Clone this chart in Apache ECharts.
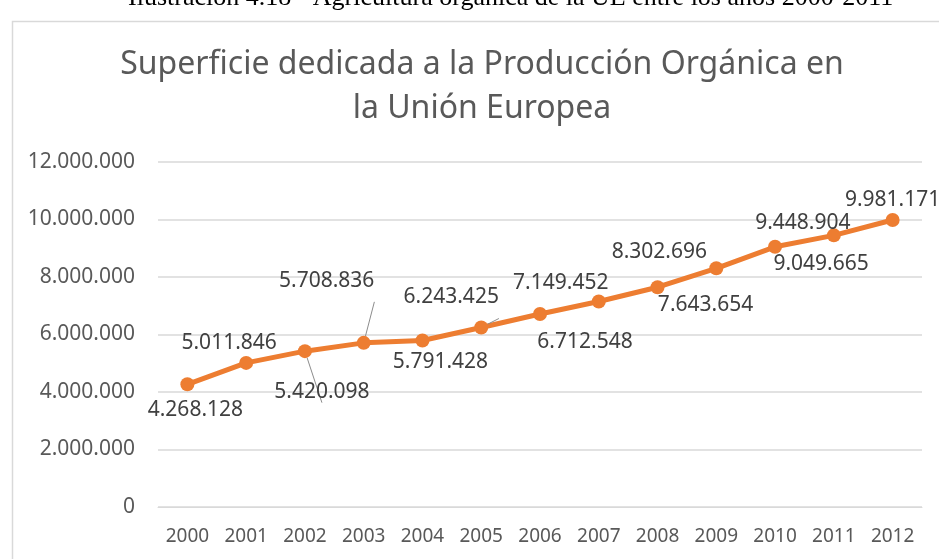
<!DOCTYPE html>
<html lang="es">
<head>
    <meta charset="UTF-8">
    <title>Superficie Producción Orgánica UE</title>
    <script src="https://cdn.jsdelivr.net/npm/echarts@6/dist/echarts.min.js"></script>
    <style>
        *{ margin: 0; padding: 0; }
        body{ width: 939px; height: 559px; overflow: hidden; background: #fff; }
        .container{ width: 939px; height: 559px; }
    </style>
</head>
<body>
<div class="container"></div>
<script>
    // datos
    let years = ['2000','2001','2002','2003','2004','2005','2006','2007','2008','2009','2010','2011','2012'];
    let hectareas = [4268128, 5011846, 5420098, 5708836, 5791428, 6243425, 6712548, 7149452, 7643654, 8302696, 9049665, 9448904, 9981171];
    let yTicks = [0, 2000000, 4000000, 6000000, 8000000, 10000000, 12000000];

    // posición de cada etiqueta respecto al punto
    let labelOffsets = [[8,26],[-17,-20],[17,41],[-37,-62],[18,22],[-30,-30],[45,28],[-38,-18],[48,18],[-57,-16],[46,17],[-31,-12],[0,-20]];
    let withLeader = [2, 3, 5];

    let fmt = v => String(v).replace(/\B(?=(\d{3})+(?!\d))/g, '.');

    let container = document.querySelector('.container');
    let mychart = echarts.init(container);

    let font = '"Noto Sans", sans-serif';

    let seriesData = hectareas.map((v, i) => ({
        value: v,
        label: { offset: labelOffsets[i] },
        labelLine: { show: withLeader.includes(i) }
    }));

    let options = {
        backgroundColor: '#fff',
        graphic: [
            {
                type: 'rect',
                left: 10, top: 19,
                shape: { width: 940, height: 560 },
                style: { fill: 'none', stroke: '#d9d9d9', lineWidth: 1.5 },
                z: -1
            },
            {
                type: 'text',
                left: 128, top: -15,
                style: {
                    text: 'Ilustración 4.18 - Agricultura orgánica de la UE entre los años 2000-2011',
                    font: '26px "Liberation Serif", serif',
                    fill: '#000'
                }
            }
        ],
        title: {
            text: 'Superficie dedicada a la Producción Orgánica en\nla Unión Europea',
            left: 477,
            textAlign: 'center',
            top: 38,
            textStyle: {
                fontFamily: font,
                fontSize: 32,
                fontWeight: 'normal',
                color: '#595959',
                lineHeight: 44
            }
        },
        grid: { left: 158, right: 17, top: 162, bottom: 52 },
        xAxis: {
            type: 'category',
            data: years,
            axisTick: { show: false },
            axisLine: { lineStyle: { color: '#d9d9d9' } },
            axisLabel: { interval: 0, color: '#595959', fontFamily: font, fontSize: 19, margin: 20 }
        },
        yAxis: {
            type: 'value',
            min: yTicks[0],
            max: yTicks[yTicks.length - 1],
            interval: yTicks[1] - yTicks[0],
            axisLine: { show: false },
            axisTick: { show: false },
            splitLine: { lineStyle: { color: '#d9d9d9', width: 1.5 } },
            axisLabel: { color: '#595959', fontFamily: font, fontSize: 21, margin: 23, formatter: fmt }
        },
        series: [{
            type: 'line',
            data: seriesData,
            symbol: 'circle',
            symbolSize: 14,
            lineStyle: { color: '#ED7D31', width: 5 },
            itemStyle: { color: '#ED7D31' },
            label: {
                show: true,
                position: 'inside',
                color: '#404040',
                fontFamily: font,
                fontSize: 21,
                formatter: p => fmt(p.value)
            },
            labelLine: { lineStyle: { color: '#8c8c8c', width: 1 } },
            animation: false
        }]
    };

    mychart.setOption(options);
</script>
</body>
</html>
